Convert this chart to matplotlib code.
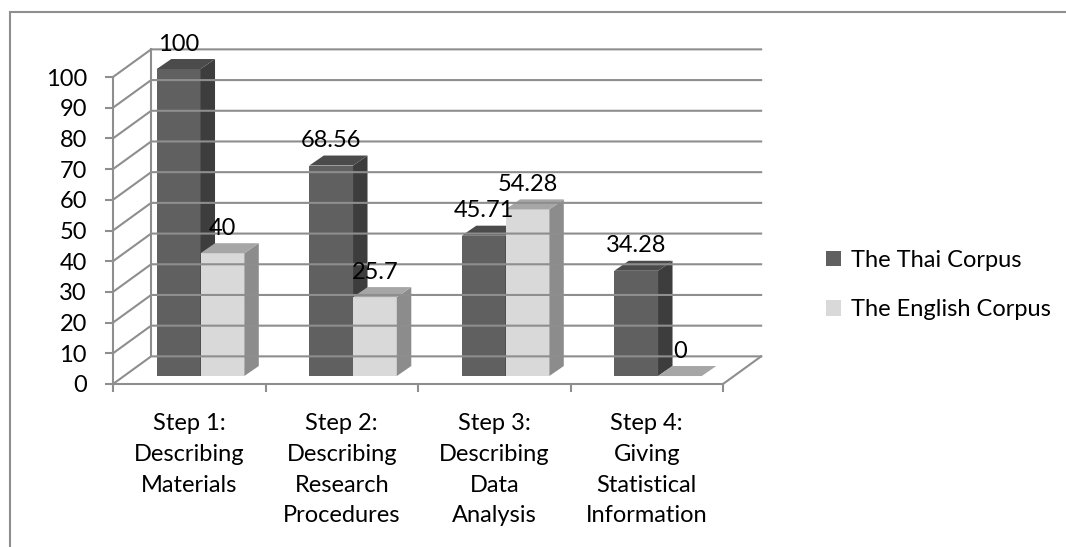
import numpy as np
import matplotlib
matplotlib.use("Agg")
import matplotlib.pyplot as plt
from matplotlib.patches import Polygon, Rectangle, Patch

plt.rcParams['font.family'] = ['Lato', 'DejaVu Sans']

categories = ["Step 1:\nDescribing\nMaterials",
              "Step 2:\nDescribing\nResearch\nProcedures",
              "Step 3:\nDescribing\nData\nAnalysis",
              "Step 4:\nGiving\nStatistical\nInformation"]
series_names = ["The Thai Corpus", "The English Corpus"]
thai = [100, 68.56, 45.71, 34.28]
english = [40, 25.7, 54.28, 0]
value_labels = [["100", "68.56", "45.71", "34.28"],
                ["40", "25.7", "54.28", "0"]]
yticks = list(range(0, 101, 10))

# face colours: front, side, top
colors = [("#606060", "#3d3d3d", "#4b4b4b"),
          ("#d9d9d9", "#8c8c8c", "#a6a6a6")]
grid_c = "#8e8e8e"
fs = 17

W, H = 1066, 547
fig = plt.figure(figsize=(W / 100, H / 100), dpi=100)
ax = fig.add_axes([0, 0, 1, 1])
# one x unit per category, y in percent
ax.set_xlim(-113 / 152.5, (W - 113) / 152.5)
ax.set_ylim(-(H - 384) / 3.07, 384 / 3.07)

# outer chart border
fig.patches.append(Rectangle((10 / W, -0.1), 1.2, 1 - 12 / H + 0.1, transform=fig.transFigure,
                             fill=False, ec=grid_c, lw=1.5))

n = len(categories)
wdx, wdy = 0.25, 9.0        # wall depth offset
bdx, bdy = 0.095, 3.26      # bar depth
by0 = 2.6                   # bar base offset
bw = 0.287

# walls and gridlines
for v in yticks:
    ax.plot([0, wdx, n + wdx], [v, v + wdy, v + wdy], color=grid_c, lw=1.5, solid_joinstyle='miter')
ax.plot([wdx, wdx], [wdy, 100 + wdy], color=grid_c, lw=1.5)
ax.plot([n, n + wdx], [0, wdy], color=grid_c, lw=1.5)

# bars
for i in range(n):
    for k, vals in enumerate([thai, english]):
        v = vals[i]
        x0 = i + bw + k * bw
        x1 = x0 + bw
        y0 = by0
        y1 = by0 + v
        fc, sc, tc = colors[k]
        if v > 0:
            ax.add_patch(Polygon([(x0, y0), (x1, y0), (x1, y1), (x0, y1)], closed=True, fc=fc, ec='none'))
            ax.add_patch(Polygon([(x1, y0), (x1 + bdx, y0 + bdy), (x1 + bdx, y1 + bdy), (x1, y1)],
                                 closed=True, fc=sc, ec='none'))
        ax.add_patch(Polygon([(x0, y1), (x1, y1), (x1 + bdx, y1 + bdy), (x0 + bdx, y1 + bdy)],
                             closed=True, fc=tc, ec='none'))
        ax.annotate(value_labels[k][i], ((x0 + x1) / 2, y1), xytext=(0, 18),
                    textcoords='offset points', ha='center', va='center', fontsize=fs)

# front axes through the library spines
for s in ['top', 'right']:
    ax.spines[s].set_visible(False)
ax.spines['left'].set_position(('data', 0))
ax.spines['left'].set_bounds(0, 100)
ax.spines['bottom'].set_position(('data', 0))
ax.spines['bottom'].set_bounds(0, n)
for s in ['left', 'bottom']:
    ax.spines[s].set_color(grid_c)
    ax.spines[s].set_linewidth(1.5)

ax.set_yticks(yticks)
ax.set_yticklabels([str(t) for t in yticks], fontsize=fs)
ax.tick_params(axis='y', length=5.8, width=1.5, color=grid_c, pad=13)
ax.set_xticks(np.arange(n + 1))
ax.set_xticklabels([])
ax.tick_params(axis='x', length=5.8, width=1.5, color=grid_c)
ax.set_xticks(np.arange(n) + 0.5, minor=True)
ax.set_xticklabels(categories, minor=True, fontsize=fs, linespacing=1.57, va='top')
ax.tick_params(axis='x', which='minor', length=0, pad=21)

handles = [Patch(fc=colors[k][0], ec='none') for k in range(2)]
ax.legend(handles, series_names, loc='center left', bbox_to_anchor=(826 / W, 1 - 285 / H),
          bbox_transform=fig.transFigure, frameon=False, fontsize=fs, handlelength=0.64,
          handleheight=0.64, handletextpad=0.4, labelspacing=1.2, borderpad=0, borderaxespad=0)

fig.savefig("out.png", dpi=100)
